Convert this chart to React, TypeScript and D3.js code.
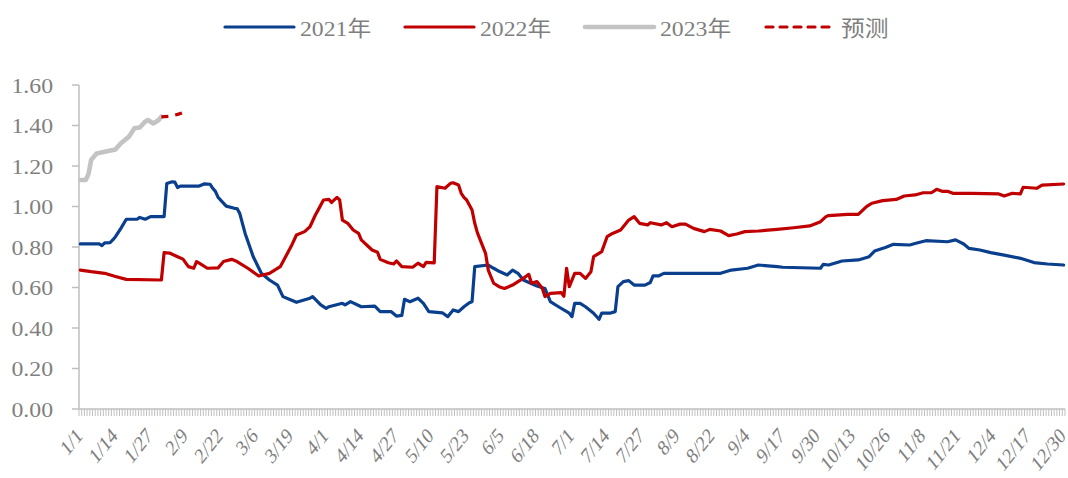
import React, { useEffect, useRef } from "react";
import * as d3 from "d3";

// categories: 1/1 .. 12/30 (leap-year calendar, includes 2/29)
const fmtDay = d3.timeFormat("%-m/%-d");
const categories = d3.timeDay.range(new Date(2020, 0, 1), new Date(2020, 11, 31)).map(fmtDay);

const yTicks = [0, 0.2, 0.4, 0.6, 0.8, 1.0, 1.2, 1.4, 1.6];

const s2021: [string, number][] = [
  ["1/1", 0.815], ["1/8", 0.815], ["1/9", 0.807], ["1/10", 0.82], ["1/12", 0.822], ["1/13", 0.835],
  ["1/14", 0.851], ["1/16", 0.892], ["1/18", 0.937], ["1/22", 0.937], ["1/23", 0.946], ["1/25", 0.937],
  ["1/27", 0.95], ["2/1", 0.95], ["2/2", 1.114], ["2/4", 1.122], ["2/5", 1.12], ["2/6", 1.094],
  ["2/7", 1.101], ["2/14", 1.101], ["2/16", 1.112], ["2/18", 1.11], ["2/19", 1.09], ["2/20", 1.075],
  ["2/21", 1.045], ["2/24", 1.002], ["2/27", 0.991], ["2/28", 0.99], ["2/29", 0.966], ["3/2", 0.867],
  ["3/5", 0.752], ["3/8", 0.67], ["3/11", 0.637], ["3/14", 0.612], ["3/16", 0.555], ["3/19", 0.538],
  ["3/21", 0.527], ["3/26", 0.547], ["3/27", 0.555], ["3/30", 0.514], ["4/1", 0.497], ["4/2", 0.505],
  ["4/7", 0.522], ["4/8", 0.514], ["4/10", 0.53], ["4/14", 0.505], ["4/19", 0.508], ["4/21", 0.481],
  ["4/25", 0.481], ["4/27", 0.459], ["4/29", 0.462], ["4/30", 0.542], ["5/2", 0.53], ["5/5", 0.547],
  ["5/7", 0.522], ["5/9", 0.481], ["5/14", 0.475], ["5/16", 0.456], ["5/18", 0.489], ["5/20", 0.481],
  ["5/22", 0.505], ["5/24", 0.525], ["5/25", 0.53], ["5/26", 0.703], ["5/31", 0.711], ["6/2", 0.695],
  ["6/4", 0.68], ["6/7", 0.662], ["6/9", 0.686], ["6/11", 0.67], ["6/13", 0.637], ["6/18", 0.607],
  ["6/21", 0.595], ["6/23", 0.53], ["6/26", 0.505], ["6/30", 0.473], ["7/1", 0.456], ["7/2", 0.522],
  ["7/4", 0.522], ["7/6", 0.505], ["7/9", 0.473], ["7/11", 0.443], ["7/12", 0.473], ["7/15", 0.473],
  ["7/17", 0.481], ["7/18", 0.604], ["7/20", 0.629], ["7/22", 0.634], ["7/24", 0.612], ["7/28", 0.612],
  ["7/30", 0.625], ["7/31", 0.657], ["8/2", 0.657], ["8/4", 0.67], ["8/25", 0.67], ["8/29", 0.686],
  ["9/4", 0.695], ["9/8", 0.711], ["9/15", 0.703], ["9/17", 0.7], ["10/1", 0.695], ["10/2", 0.714],
  ["10/4", 0.711], ["10/9", 0.731], ["10/15", 0.736], ["10/19", 0.752], ["10/21", 0.78], ["10/25", 0.798],
  ["10/28", 0.813], ["11/3", 0.81], ["11/6", 0.821], ["11/9", 0.831], ["11/17", 0.826], ["11/20", 0.835],
  ["11/23", 0.815], ["11/25", 0.793], ["11/29", 0.785], ["12/3", 0.772], ["12/8", 0.76], ["12/14", 0.744],
  ["12/19", 0.723], ["12/24", 0.716], ["12/30", 0.711],
];

const s2022: [string, number][] = [
  ["1/1", 0.686], ["1/5", 0.678], ["1/10", 0.67], ["1/14", 0.654], ["1/18", 0.64], ["1/31", 0.637],
  ["2/1", 0.772], ["2/3", 0.77], ["2/6", 0.752], ["2/8", 0.74], ["2/10", 0.703], ["2/12", 0.695],
  ["2/13", 0.728], ["2/14", 0.72], ["2/17", 0.695], ["2/21", 0.697], ["2/23", 0.728], ["2/26", 0.739],
  ["2/28", 0.728], ["3/3", 0.695], ["3/7", 0.657], ["3/11", 0.67], ["3/15", 0.703], ["3/19", 0.802],
  ["3/21", 0.859], ["3/24", 0.876], ["3/26", 0.9], ["3/28", 0.958], ["3/29", 0.982], ["3/31", 1.032],
  ["4/2", 1.035], ["4/3", 1.02], ["4/5", 1.045], ["4/6", 1.032], ["4/7", 0.933], ["4/9", 0.917],
  ["4/11", 0.884], ["4/13", 0.867], ["4/14", 0.835], ["4/16", 0.81], ["4/18", 0.785], ["4/20", 0.774],
  ["4/21", 0.739], ["4/24", 0.722], ["4/26", 0.716], ["4/27", 0.731], ["4/29", 0.703], ["5/3", 0.7],
  ["5/5", 0.72], ["5/7", 0.703], ["5/8", 0.724], ["5/11", 0.722], ["5/12", 1.098], ["5/15", 1.09],
  ["5/17", 1.114], ["5/18", 1.117], ["5/20", 1.106], ["5/21", 1.065], ["5/22", 1.045], ["5/23", 1.032],
  ["5/24", 1.007], ["5/25", 0.983], ["5/26", 0.917], ["5/27", 0.87], ["5/29", 0.802], ["5/30", 0.769],
  ["5/31", 0.686], ["6/2", 0.621], ["6/4", 0.604], ["6/6", 0.595], ["6/9", 0.612], ["6/11", 0.629],
  ["6/13", 0.645], ["6/15", 0.665], ["6/16", 0.621], ["6/18", 0.629], ["6/20", 0.596], ["6/21", 0.555],
  ["6/23", 0.571], ["6/27", 0.575], ["6/28", 0.557], ["6/29", 0.695], ["6/30", 0.604], ["7/2", 0.67],
  ["7/4", 0.67], ["7/6", 0.645], ["7/8", 0.678], ["7/9", 0.752], ["7/12", 0.777], ["7/14", 0.851],
  ["7/16", 0.867], ["7/19", 0.884], ["7/22", 0.933], ["7/24", 0.95], ["7/26", 0.917], ["7/29", 0.909],
  ["7/30", 0.92], ["8/3", 0.909], ["8/5", 0.92], ["8/7", 0.9], ["8/10", 0.913], ["8/12", 0.913],
  ["8/15", 0.892], ["8/19", 0.876], ["8/21", 0.887], ["8/25", 0.879], ["8/28", 0.856], ["8/31", 0.864],
  ["9/3", 0.876], ["9/8", 0.879], ["9/15", 0.887], ["9/21", 0.895], ["9/27", 0.904], ["10/1", 0.925],
  ["10/3", 0.95], ["10/4", 0.955], ["10/11", 0.961], ["10/15", 0.961], ["10/18", 0.999], ["10/20", 1.016],
  ["10/24", 1.029], ["10/29", 1.035], ["11/1", 1.052], ["11/5", 1.057], ["11/8", 1.068], ["11/11", 1.068],
  ["11/13", 1.085], ["11/15", 1.075], ["11/17", 1.075], ["11/19", 1.065], ["11/26", 1.065], ["12/6", 1.062],
  ["12/8", 1.052], ["12/11", 1.065], ["12/14", 1.062], ["12/15", 1.095], ["12/20", 1.09], ["12/22", 1.106],
  ["12/30", 1.111],
];

const s2023: [string, number][] = [
  ["1/1", 1.131], ["1/3", 1.131], ["1/4", 1.16], ["1/5", 1.23], ["1/7", 1.262], ["1/10", 1.27],
  ["1/14", 1.282], ["1/16", 1.312], ["1/19", 1.345], ["1/21", 1.386], ["1/23", 1.39], ["1/25", 1.419],
  ["1/26", 1.427], ["1/28", 1.41], ["1/30", 1.427], ["1/31", 1.444],
];

const forecast: [string, number][] = [
  ["1/31", 1.443], ["2/3", 1.445], ["2/6", 1.455], ["2/8", 1.463],
];

const series = [
  { name: "2021年", data: s2021, color: "#0a3f8e", width: 3.2, dash: null },
  { name: "2022年", data: s2022, color: "#c00000", width: 3.2, dash: null },
  { name: "2023年", data: s2023, color: "#c3c3c3", width: 4.6, dash: null },
  { name: "预测", data: forecast, color: "#c00000", width: 3.2, dash: "7 7" },
];

const FONT = "'Liberation Serif', 'Times New Roman', 'Noto Sans CJK SC', serif";
const TEXT = "#7f7f7f";
const AXIS = "#bfbfbf";
const SX = 1.08; // horizontal labels look a bit wide in the original
const SX_ROT = 0.8; // rotated date labels look squeezed

const App: React.FC = () => {
  const chartRef = useRef<SVGSVGElement>(null);

  useEffect(() => {
    const svg = d3.select(chartRef.current);
    svg.selectAll("*").remove();

    const left = 79, right = 1065, top = 85, bottom = 409;

    const x = d3.scaleBand<string>().domain(categories).range([left, right]).padding(0);
    const cx = (c: string) => (x(c) as number) + x.bandwidth() / 2;
    const y = d3.scaleLinear().domain([0, 1.6]).range([bottom, top]);

    // y axis
    svg.append("line")
      .attr("x1", left).attr("x2", left).attr("y1", top).attr("y2", bottom)
      .attr("stroke", AXIS).attr("stroke-width", 1.5);
    const yg = svg.append("g");
    yTicks.forEach((t) => {
      yg.append("line")
        .attr("x1", left - 7).attr("x2", left).attr("y1", y(t)).attr("y2", y(t))
        .attr("stroke", AXIS).attr("stroke-width", 1.5);
      yg.append("text")
        .attr("transform", `translate(53,${y(t)}) scale(${SX},1)`)
        .attr("text-anchor", "end")
        .attr("dy", "0.35em")
        .attr("font-family", FONT).attr("font-size", 22).attr("fill", TEXT)
        .text(t.toFixed(2));
    });

    // x axis with daily ticks
    const xg = svg.append("g");
    categories.forEach((c) => {
      xg.append("line")
        .attr("x1", x(c) as number).attr("x2", x(c) as number)
        .attr("y1", bottom).attr("y2", bottom + 7)
        .attr("stroke", AXIS).attr("stroke-width", 1);
    });
    xg.append("line")
      .attr("x1", right).attr("x2", right).attr("y1", bottom).attr("y2", bottom + 7)
      .attr("stroke", AXIS).attr("stroke-width", 1);
    xg.append("line")
      .attr("x1", left).attr("x2", right).attr("y1", bottom).attr("y2", bottom)
      .attr("stroke", AXIS).attr("stroke-width", 1.5);
    categories.forEach((c, i) => {
      if (i % 13 !== 0) return;
      xg.append("text")
        .attr("transform", `translate(${cx(c) + 3},${bottom + 28}) scale(${SX_ROT},1) rotate(-45)`)
        .attr("text-anchor", "end")
        .attr("font-family", FONT).attr("font-size", 22).attr("fill", TEXT)
        .text(c);
    });

    // series
    const line = d3.line<[string, number]>()
      .x((d) => cx(d[0]))
      .y((d) => y(d[1]));
    series.forEach((s) => {
      const p = svg.append("path")
        .attr("d", line(s.data) as string)
        .attr("fill", "none")
        .attr("stroke", s.color)
        .attr("stroke-width", s.width)
        .attr("stroke-linejoin", "round")
        .attr("stroke-linecap", "round");
      if (s.dash) p.attr("stroke-dasharray", s.dash).attr("stroke-linecap", "butt");
    });

    // legend
    const legendX = [225, 405, 585, 766];
    const lg = svg.append("g");
    series.forEach((s, i) => {
      const lx = legendX[i];
      const ll = lg.append("line")
        .attr("x1", lx).attr("x2", lx + 69).attr("y1", 27).attr("y2", 27)
        .attr("stroke", s.color).attr("stroke-width", s.width)
        .attr("stroke-linecap", "round");
      if (s.dash) ll.attr("stroke-dasharray", "7 7");
      lg.append("text")
        .attr("transform", `translate(${lx + 75},28) scale(${SX},1)`)
        .attr("dy", "0.35em")
        .attr("font-family", FONT).attr("font-size", 22).attr("fill", TEXT)
        .text(s.name);
    });
  }, []);

  return (
    <svg
      ref={chartRef}
      width={1068}
      height={478}
      style={{ position: "absolute", left: 0, top: 0, background: "#fff" }}
    />
  );
};

export default App;
